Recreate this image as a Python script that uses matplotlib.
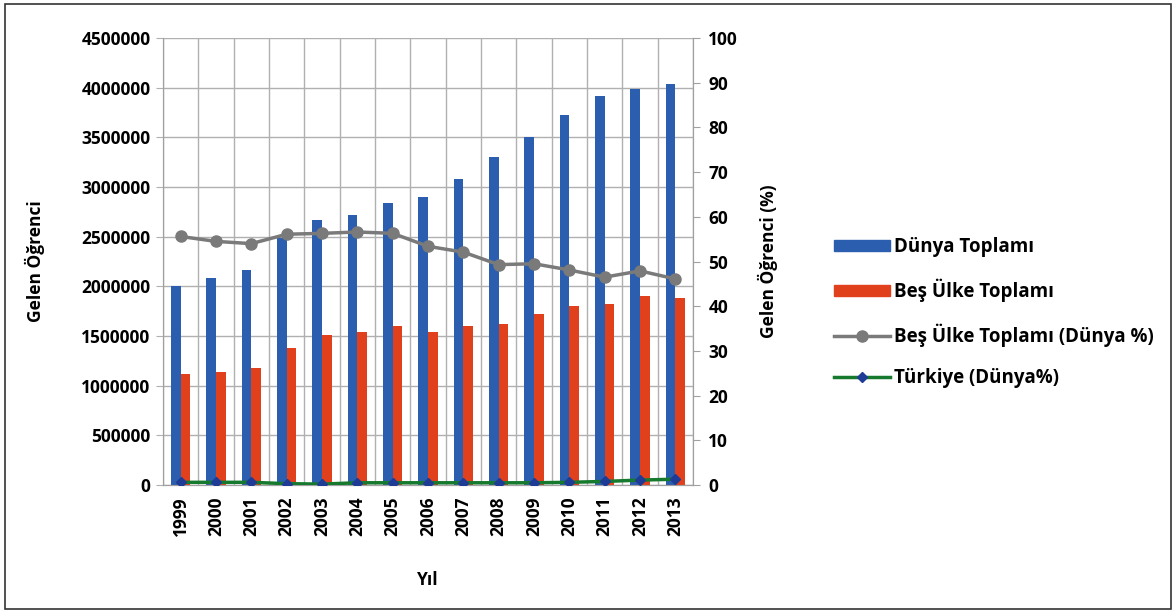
import matplotlib.pyplot as plt
import matplotlib.patches as mpatches
from matplotlib.lines import Line2D
import numpy as np

years = ["1999", "2000", "2001", "2002", "2003", "2004", "2005", "2006",
         "2007", "2008", "2009", "2010", "2011", "2012", "2013"]
dunya = [2000000, 2086000, 2167000, 2483000, 2670000, 2720000, 2840000, 2900000,
         3080000, 3300000, 3500000, 3720000, 3920000, 3990000, 4040000]
bes_ulke = [1117000, 1137000, 1178000, 1380000, 1507000, 1540000, 1600000, 1540000,
            1600000, 1620000, 1720000, 1800000, 1820000, 1900000, 1880000]
bes_pct = [55.6, 54.5, 54.0, 56.1, 56.3, 56.6, 56.3, 53.4,
           52.1, 49.3, 49.5, 48.1, 46.5, 47.9, 46.1]
turkiye_pct = [0.6, 0.6, 0.6, 0.3, 0.2, 0.5, 0.5, 0.5,
               0.5, 0.5, 0.5, 0.6, 0.8, 1.1, 1.3]

plt.rcParams['font.family'] = ['Open Sans', 'DejaVu Sans']
plt.rcParams['font.weight'] = 'bold'

blue = "#2B5EAE"
red = "#E1401C"
gray = "#7A7A7A"
green = "#167A2E"
navy = "#1E3C96"
fs = 12.5

fig = plt.figure(figsize=(11.76, 6.13), dpi=100)
fig.patches.append(mpatches.Rectangle((0.004, 0.006), 0.992, 0.988, transform=fig.transFigure,
                                      fill=False, edgecolor="#333333", linewidth=1.2))
ax = fig.add_axes([0.1386, 0.2088, 0.4507, 0.7292])
x = np.arange(len(years))
w = 0.27
ax.bar(x - w / 2, dunya, width=w, color=blue, zorder=3)
ax.bar(x + w / 2, bes_ulke, width=w, color=red, zorder=3)
ax.set_xlim(-0.5, len(years) - 0.5)
ax.set_ylim(0, 4500000)
ax.set_yticks(np.arange(0, 4500001, 500000))
ax.set_yticklabels([str(v) for v in range(0, 4500001, 500000)], fontsize=fs, fontweight='bold')
ax.set_xticks(x)
ax.set_xticklabels(years, rotation=90, fontsize=fs, fontweight='bold')
ax.set_xticks(np.arange(-0.5, len(years), 1), minor=True)
ax.grid(True, which='major', axis='y', color="#b0b0b0", linewidth=1, zorder=0)
ax.grid(True, which='minor', axis='x', color="#b0b0b0", linewidth=1, zorder=0)
ax.tick_params(axis='x', which='both', length=0, pad=8)
ax.tick_params(axis='y', length=5, color="#b0b0b0", pad=4)
ax.spines['top'].set_visible(False)
for s in ['left', 'bottom', 'right']:
    ax.spines[s].set_color("#a0a0a0")
ax.set_ylabel("Gelen Öğrenci", fontsize=fs, fontweight='bold', labelpad=26)
ax.set_xlabel("Yıl", fontsize=fs, fontweight='bold', labelpad=25)

ax2 = ax.twinx()
ax2.plot(x, bes_pct, color=gray, linewidth=2.5, marker='o', markersize=8, zorder=4)
ax2.plot(x, turkiye_pct, color=green, linewidth=2.5, marker='D', markersize=5,
         markerfacecolor=navy, markeredgecolor=navy, zorder=4)
ax2.set_ylim(0, 100)
ax2.set_yticks(np.arange(0, 101, 10))
ax2.set_yticklabels([str(v) for v in range(0, 101, 10)], fontsize=fs, fontweight='bold')
ax2.tick_params(axis='y', length=5, color="#a0a0a0", pad=6)
ax2.spines['top'].set_visible(False)
for s in ['left', 'bottom', 'right']:
    ax2.spines[s].set_color("#a0a0a0")
ax2.set_ylabel("Gelen Öğrenci (%)", fontsize=fs, fontweight='bold', labelpad=14)

handles = [
    mpatches.Patch(color=blue),
    mpatches.Patch(color=red),
    Line2D([], [], color=gray, linewidth=2.5, marker='o', markersize=8),
    Line2D([], [], color=green, linewidth=2.5, marker='D', markersize=5,
           markerfacecolor=navy, markeredgecolor=navy),
]
labels = ["Dünya Toplamı", "Beş Ülke Toplamı", "Beş Ülke Toplamı (Dünya %)", "Türkiye (Dünya%)"]
fig.legend(handles, labels, loc='center left', bbox_to_anchor=(0.695, 0.49), frameon=False,
           prop={'size': 13.5, 'weight': 'bold'}, handlelength=3.0, handleheight=0.55,
           labelspacing=1.15, handletextpad=0.2)

plt.savefig("out.png", dpi=100)
